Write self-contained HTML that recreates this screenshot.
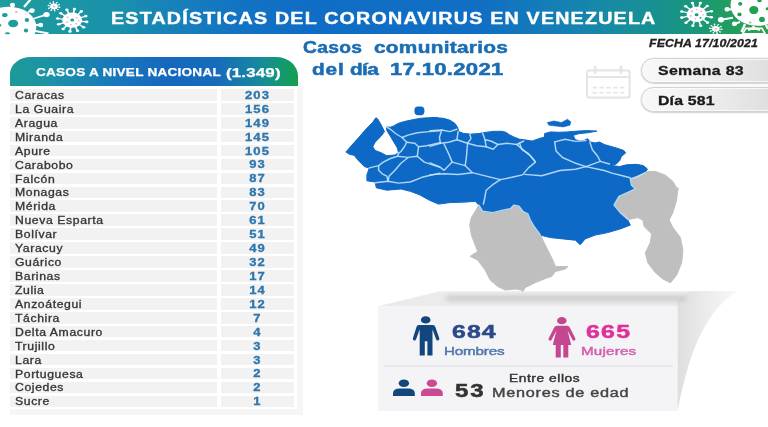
<!DOCTYPE html>
<html lang="es">
<head>
<meta charset="utf-8">
<title>Estadísticas del Coronavirus en Venezuela</title>
<style>
html,body{margin:0;padding:0;}
body{width:768px;height:427px;overflow:hidden;background:#fff;position:relative;font-family:"Liberation Sans",sans-serif;}
.abs{position:absolute;}
.t{position:absolute;white-space:nowrap;line-height:1;transform-origin:0 0;}
#banner{left:0;top:0;width:768px;height:34.2px;background:linear-gradient(90deg,#1f9c9c 0%,#1b97a3 8%,#1a91ab 15%,#1782b9 22%,#1273c3 31%,#0f6dc5 40%,#106ec4 62.5%,#1580b4 73%,#178ca0 80.7%,#17928c 86.6%,#1a9878 91%,#239e5a 95.7%,#2ba24c 100%);}
.pill{position:absolute;left:640.5px;width:140px;height:23.4px;border-radius:13px 0 0 13px;background:linear-gradient(90deg,#f8f8f8 0%,#f0f0f0 40%,#dcdcdc 100%);border:1px solid #d2d2d2;box-shadow:0 .5px 1.5px rgba(0,0,0,.3), inset 0 0 0 1px rgba(255,255,255,.7);}
#pill1{top:57.8px;}
#pill2{top:86.8px;}
/* table */
#tframe{left:9.6px;top:86px;width:293.4px;height:328.5px;background:#f6f6f6;}
#tinner{left:9.6px;top:86px;width:287.4px;height:323.4px;background:#fff;}
#thead{left:9.8px;top:57px;width:288.4px;height:29px;border-radius:21px 22px 0 0 / 17px 19px 0 0;background:linear-gradient(90deg,#1c9a98 0%,#1c93a6 14%,#1878bc 36%,#1568be 55%,#166cba 72%,#1788a0 86%,#15967a 93%,#14a04c 100%);}
#tbody{left:10.2px;top:89.05px;width:284px;height:320px;}
.row{position:absolute;left:0;width:284px;height:11.6px;background:#f2f2f2;}
.row .n{position:absolute;left:4.7px;top:1.9px;font-size:10px;color:#333;-webkit-text-stroke:.3px #363636;line-height:1;white-space:nowrap;transform-origin:0 0;transform:scaleX(1.22);letter-spacing:.5px;}
.row .v{position:absolute;left:208.6px;width:76px;top:1.8px;text-align:center;font-size:10px;font-weight:bold;color:#2d76ae;-webkit-text-stroke:.3px #2d76ae;line-height:1;transform:scaleX(1.3);letter-spacing:.8px;text-indent:.8px;}
#coldiv{left:207.3px;top:0;width:3.9px;height:320px;background:#fff;}
/* panel */
#panel{left:378px;top:305px;width:300px;height:105px;background:#f3f3f5;}
#pdiv{left:384px;top:365px;width:289px;height:1px;background:#dddde0;}
</style>
</head>
<body>
<div id="banner" class="abs"></div>
<svg id="deco" class="abs" style="left:0;top:0" width="768" height="427" viewBox="0 0 768 427">
<defs><clipPath id="bc"><rect x="0" y="0" width="768" height="34.3"/></clipPath></defs>
<g clip-path="url(#bc)">
<g fill="#fff" stroke="#fff">
<ellipse cx="8.75" cy="27" rx="27.6" ry="20.2" stroke="none"/>
<line x1="34" y1="18.5" x2="46.5" y2="14.6" stroke-width="1.8"/>
<ellipse cx="46.5" cy="14.6" rx="3.2" ry="2.7" stroke="none"/>
<line x1="28" y1="12" x2="32" y2="10.6" stroke-width="2"/>
<ellipse cx="32" cy="10.6" rx="2.7" ry="2.3" stroke="none"/>
<line x1="34" y1="25" x2="40.6" y2="25" stroke-width="1.8"/>
<ellipse cx="40.6" cy="25" rx="2.6" ry="2.2" stroke="none"/>
<line x1="12.5" y1="8" x2="12.5" y2="5" stroke-width="2"/>
<ellipse cx="12.5" cy="5" rx="2.6" ry="2.2" stroke="none"/>
<line x1="24" y1="7" x2="30.5" y2="-0.5" stroke-width="2.3"/>
<line x1="30" y1="30" x2="48.5" y2="33.5" stroke-width="2.2"/>
</g>
<ellipse cx="4.8" cy="15" rx="2.8" ry="2.1" fill="#1f9d9c"/>
<ellipse cx="13.2" cy="23.5" rx="5" ry="3.8" fill="#1f9d9c"/>
<ellipse cx="26.9" cy="20" rx="2.2" ry="2" fill="#1f9d9c"/>
<ellipse cx="26" cy="30.4" rx="2.2" ry="2" fill="#1f9d9c"/>
<ellipse cx="16.3" cy="12" rx="1.3" ry="1.1" fill="#e9a7c4"/>
<ellipse cx="25.6" cy="13.8" rx="1" ry="0.9" fill="#f3cfe0"/>
<ellipse cx="7.5" cy="33.5" rx="2.5" ry="1.3" fill="#1f9d9c"/>
<ellipse cx="0" cy="25.3" rx="1.2" ry="1.2" fill="#1f9d9c"/>
<g transform="translate(54,6.4) scale(1.3,1)"><g fill="#fff" stroke="#fff" opacity="1">
<circle cx="0" cy="0" r="2.8" stroke="none"/>
<line x1="2.2" y1="0.4" x2="4.3" y2="0.9" stroke-width="0.75"/>
<circle cx="4.3" cy="0.9" r="0.7" stroke="none"/>
<line x1="1.5" y1="1.7" x2="3.0" y2="3.2" stroke-width="0.75"/>
<circle cx="3.0" cy="3.2" r="0.7" stroke="none"/>
<line x1="0.3" y1="2.2" x2="0.5" y2="4.4" stroke-width="0.75"/>
<circle cx="0.5" cy="4.4" r="0.7" stroke="none"/>
<line x1="-1.1" y1="2.0" x2="-2.2" y2="3.8" stroke-width="0.75"/>
<circle cx="-2.2" cy="3.8" r="0.7" stroke="none"/>
<line x1="-2.0" y1="0.9" x2="-4.0" y2="1.8" stroke-width="0.75"/>
<circle cx="-4.0" cy="1.8" r="0.7" stroke="none"/>
<line x1="-2.2" y1="-0.4" x2="-4.3" y2="-0.9" stroke-width="0.75"/>
<circle cx="-4.3" cy="-0.9" r="0.7" stroke="none"/>
<line x1="-1.5" y1="-1.7" x2="-3.0" y2="-3.2" stroke-width="0.75"/>
<circle cx="-3.0" cy="-3.2" r="0.7" stroke="none"/>
<line x1="-0.3" y1="-2.2" x2="-0.5" y2="-4.4" stroke-width="0.75"/>
<circle cx="-0.5" cy="-4.4" r="0.7" stroke="none"/>
<line x1="1.1" y1="-2.0" x2="2.2" y2="-3.8" stroke-width="0.75"/>
<circle cx="2.2" cy="-3.8" r="0.7" stroke="none"/>
<line x1="2.0" y1="-0.9" x2="4.0" y2="-1.8" stroke-width="0.75"/>
<circle cx="4.0" cy="-1.8" r="0.7" stroke="none"/>
</g>
<circle cx="0.0" cy="0.0" r="0.9" fill="#e9a7c4"/>
</g>
<g transform="translate(72.2,20.2) scale(1.3,1)"><g fill="#fff" stroke="#fff" opacity="1">
<circle cx="0" cy="0" r="7.6" stroke="none"/>
<line x1="6.0" y1="0.9" x2="11.2" y2="1.7" stroke-width="1.25"/>
<circle cx="11.2" cy="1.7" r="1.3" stroke="none"/>
<line x1="4.8" y1="3.8" x2="8.8" y2="7.0" stroke-width="1.25"/>
<circle cx="8.8" cy="7.0" r="1.3" stroke="none"/>
<line x1="2.2" y1="5.7" x2="4.1" y2="10.5" stroke-width="1.25"/>
<circle cx="4.1" cy="10.5" r="1.3" stroke="none"/>
<line x1="-0.9" y1="6.0" x2="-1.7" y2="11.2" stroke-width="1.25"/>
<circle cx="-1.7" cy="11.2" r="1.3" stroke="none"/>
<line x1="-3.8" y1="4.8" x2="-7.0" y2="8.8" stroke-width="1.25"/>
<circle cx="-7.0" cy="8.8" r="1.3" stroke="none"/>
<line x1="-5.7" y1="2.2" x2="-10.5" y2="4.1" stroke-width="1.25"/>
<circle cx="-10.5" cy="4.1" r="1.3" stroke="none"/>
<line x1="-6.0" y1="-0.9" x2="-11.2" y2="-1.7" stroke-width="1.25"/>
<circle cx="-11.2" cy="-1.7" r="1.3" stroke="none"/>
<line x1="-4.8" y1="-3.8" x2="-8.8" y2="-7.0" stroke-width="1.25"/>
<circle cx="-8.8" cy="-7.0" r="1.3" stroke="none"/>
<line x1="-2.2" y1="-5.7" x2="-4.1" y2="-10.5" stroke-width="1.25"/>
<circle cx="-4.1" cy="-10.5" r="1.3" stroke="none"/>
<line x1="0.9" y1="-6.0" x2="1.7" y2="-11.2" stroke-width="1.25"/>
<circle cx="1.7" cy="-11.2" r="1.3" stroke="none"/>
<line x1="3.8" y1="-4.8" x2="7.0" y2="-8.8" stroke-width="1.25"/>
<circle cx="7.0" cy="-8.8" r="1.3" stroke="none"/>
<line x1="5.7" y1="-2.2" x2="10.5" y2="-4.1" stroke-width="1.25"/>
<circle cx="10.5" cy="-4.1" r="1.3" stroke="none"/>
</g>
<circle cx="0.0" cy="-0.2" r="1.5" fill="#1f9d9c"/>
<circle cx="-3.5" cy="-3.0" r="0.8" fill="#e9a7c4"/>
<circle cx="3.5" cy="-2.5" r="0.8" fill="#e9a7c4"/>
<circle cx="-4.0" cy="2.0" r="0.8" fill="#e9a7c4"/>
<circle cx="3.0" cy="3.5" r="0.8" fill="#e9a7c4"/>
<circle cx="-1.0" cy="4.5" r="0.7" fill="#e9a7c4"/>
<circle cx="5.0" cy="0.5" r="0.7" fill="#e9a7c4"/>
</g>
<g transform="translate(696.6,14.4) scale(1.3,1)"><g fill="#fff" stroke="#fff" opacity="1">
<circle cx="0" cy="0" r="7.7" stroke="none"/>
<line x1="6.0" y1="1.5" x2="11.4" y2="2.9" stroke-width="1.25"/>
<circle cx="11.4" cy="2.9" r="1.3" stroke="none"/>
<line x1="4.4" y1="4.3" x2="8.4" y2="8.2" stroke-width="1.25"/>
<circle cx="8.4" cy="8.2" r="1.3" stroke="none"/>
<line x1="1.7" y1="5.9" x2="3.2" y2="11.4" stroke-width="1.25"/>
<circle cx="3.2" cy="11.4" r="1.3" stroke="none"/>
<line x1="-1.5" y1="6.0" x2="-2.9" y2="11.4" stroke-width="1.25"/>
<circle cx="-2.9" cy="11.4" r="1.3" stroke="none"/>
<line x1="-4.3" y1="4.4" x2="-8.2" y2="8.4" stroke-width="1.25"/>
<circle cx="-8.2" cy="8.4" r="1.3" stroke="none"/>
<line x1="-5.9" y1="1.7" x2="-11.4" y2="3.2" stroke-width="1.25"/>
<circle cx="-11.4" cy="3.2" r="1.3" stroke="none"/>
<line x1="-6.0" y1="-1.5" x2="-11.4" y2="-2.9" stroke-width="1.25"/>
<circle cx="-11.4" cy="-2.9" r="1.3" stroke="none"/>
<line x1="-4.4" y1="-4.3" x2="-8.4" y2="-8.2" stroke-width="1.25"/>
<circle cx="-8.4" cy="-8.2" r="1.3" stroke="none"/>
<line x1="-1.7" y1="-5.9" x2="-3.2" y2="-11.4" stroke-width="1.25"/>
<circle cx="-3.2" cy="-11.4" r="1.3" stroke="none"/>
<line x1="1.5" y1="-6.0" x2="2.9" y2="-11.4" stroke-width="1.25"/>
<circle cx="2.9" cy="-11.4" r="1.3" stroke="none"/>
<line x1="4.3" y1="-4.4" x2="8.2" y2="-8.4" stroke-width="1.25"/>
<circle cx="8.2" cy="-8.4" r="1.3" stroke="none"/>
<line x1="5.9" y1="-1.7" x2="11.4" y2="-3.2" stroke-width="1.25"/>
<circle cx="11.4" cy="-3.2" r="1.3" stroke="none"/>
</g>
<circle cx="0.0" cy="0.3" r="1.5" fill="#169a86"/>
<circle cx="-3.5" cy="-3.0" r="0.8" fill="#e9a7c4"/>
<circle cx="3.5" cy="-3.0" r="0.8" fill="#e9a7c4"/>
<circle cx="-4.5" cy="1.5" r="0.8" fill="#e9a7c4"/>
<circle cx="3.0" cy="3.5" r="0.8" fill="#169a86"/>
<circle cx="-1.0" cy="4.5" r="0.7" fill="#e9a7c4"/>
<circle cx="5.0" cy="0.5" r="0.7" fill="#e9a7c4"/>
<circle cx="0.0" cy="-5.0" r="0.7" fill="#e9a7c4"/>
</g>
<g transform="translate(715.8,28.8) scale(1.3,1)"><g fill="#fff" stroke="#fff" opacity="1">
<circle cx="0" cy="0" r="2.8" stroke="none"/>
<line x1="2.2" y1="0.2" x2="4.6" y2="0.5" stroke-width="0.75"/>
<circle cx="4.6" cy="0.5" r="0.7" stroke="none"/>
<line x1="1.7" y1="1.5" x2="3.4" y2="3.1" stroke-width="0.75"/>
<circle cx="3.4" cy="3.1" r="0.7" stroke="none"/>
<line x1="0.5" y1="2.2" x2="1.0" y2="4.5" stroke-width="0.75"/>
<circle cx="1.0" cy="4.5" r="0.7" stroke="none"/>
<line x1="-0.9" y1="2.1" x2="-1.9" y2="4.2" stroke-width="0.75"/>
<circle cx="-1.9" cy="4.2" r="0.7" stroke="none"/>
<line x1="-1.9" y1="1.1" x2="-4.0" y2="2.3" stroke-width="0.75"/>
<circle cx="-4.0" cy="2.3" r="0.7" stroke="none"/>
<line x1="-2.2" y1="-0.2" x2="-4.6" y2="-0.5" stroke-width="0.75"/>
<circle cx="-4.6" cy="-0.5" r="0.7" stroke="none"/>
<line x1="-1.7" y1="-1.5" x2="-3.4" y2="-3.1" stroke-width="0.75"/>
<circle cx="-3.4" cy="-3.1" r="0.7" stroke="none"/>
<line x1="-0.5" y1="-2.2" x2="-1.0" y2="-4.5" stroke-width="0.75"/>
<circle cx="-1.0" cy="-4.5" r="0.7" stroke="none"/>
<line x1="0.9" y1="-2.1" x2="1.9" y2="-4.2" stroke-width="0.75"/>
<circle cx="1.9" cy="-4.2" r="0.7" stroke="none"/>
<line x1="1.9" y1="-1.1" x2="4.0" y2="-2.3" stroke-width="0.75"/>
<circle cx="4.0" cy="-2.3" r="0.7" stroke="none"/>
</g>
<circle cx="0.0" cy="0.0" r="0.9" fill="#e9a7c4"/>
</g>
<g fill="#fff" stroke="#fff">
<ellipse cx="757.5" cy="5" rx="27" ry="20.8" stroke="none"/>
<line x1="733" y1="17.8" x2="721" y2="19.8" stroke-width="1.9"/>
<ellipse cx="721" cy="19.8" rx="3.1" ry="2.7" stroke="none"/>
<line x1="733" y1="9.5" x2="727.2" y2="9.3" stroke-width="2"/>
<ellipse cx="727.2" cy="9.3" rx="2.6" ry="2.3" stroke="none"/>
<line x1="740" y1="22" x2="734.6" y2="23.8" stroke-width="2"/>
<ellipse cx="734.6" cy="23.8" rx="2.6" ry="2.3" stroke="none"/>
<path d="M745,24 L741.5,32 M753.5,26 L753.5,30 M766,25 L768,29" stroke-width="2.4" fill="none"/>
<path d="M742.6,33.9 L765.2,33.9 L762,28.4 L746,28.4 Z" fill="none" stroke-width="1.7"/>
<path d="M748,29.8 Q753.5,27.4 760,29.8" fill="none" stroke-width="2.4"/>
</g>
<ellipse cx="753.8" cy="10" rx="4.6" ry="4.1" fill="#1fa055"/>
<ellipse cx="740.2" cy="3.8" rx="2.1" ry="1.9" fill="#1fa055"/>
<ellipse cx="739.5" cy="14.4" rx="2.1" ry="1.9" fill="#1fa055"/>
<ellipse cx="762" cy="19.4" rx="2.9" ry="2.6" fill="#1fa055"/>
<ellipse cx="750.2" cy="22.5" rx="1.3" ry="1.1" fill="#8fc9a0"/>
<ellipse cx="767.3" cy="8.8" rx="1.6" ry="1.5" fill="#1fa055"/>
<ellipse cx="759.5" cy="0.4" rx="2.2" ry="1.9" fill="#1fa055"/>
</g>
<g fill="none" stroke="#e4e4e4" stroke-width="2.2" opacity=".95" filter="url(#calblur)">
<rect x="587" y="70.3" width="42.6" height="27.4" rx="2.5"/>
<line x1="587" y1="77" x2="629.6" y2="77" stroke-width="1.8"/>
<line x1="595.2" y1="66.8" x2="595.2" y2="72.6" stroke-width="2.6" stroke-linecap="round"/>
<line x1="621" y1="66.8" x2="621" y2="72.6" stroke-width="2.6" stroke-linecap="round"/>
<line x1="592.5" y1="87.6" x2="624.5" y2="87.6" stroke-width="1.6" stroke-dasharray="4.4 2.5"/>
<line x1="592.5" y1="92.7" x2="624.5" y2="92.7" stroke-width="1.6" stroke-dasharray="4.4 2.5"/>
</g>
<defs><filter id="calblur" x="-10%" y="-10%" width="120%" height="120%"><feGaussianBlur stdDeviation="0.5"/></filter></defs>
</svg>
<div id="pill1" class="pill"></div>
<div id="pill2" class="pill"></div>

<div id="tframe" class="abs"></div>
<div id="tinner" class="abs"></div>
<div id="thead" class="abs"></div>
<div id="tbody" class="abs">
<div class="row" style="top:0.0px"><span class="n">Caracas</span><span class="v">203</span></div>
<div class="row" style="top:13.93px"><span class="n">La Guaira</span><span class="v">156</span></div>
<div class="row" style="top:27.86px"><span class="n">Aragua</span><span class="v">149</span></div>
<div class="row" style="top:41.79px"><span class="n">Miranda</span><span class="v">145</span></div>
<div class="row" style="top:55.72px"><span class="n">Apure</span><span class="v">105</span></div>
<div class="row" style="top:69.65px"><span class="n">Carabobo</span><span class="v">93</span></div>
<div class="row" style="top:83.58px"><span class="n">Falcón</span><span class="v">87</span></div>
<div class="row" style="top:97.51px"><span class="n">Monagas</span><span class="v">83</span></div>
<div class="row" style="top:111.44px"><span class="n">Mérida</span><span class="v">70</span></div>
<div class="row" style="top:125.37px"><span class="n">Nueva Esparta</span><span class="v">61</span></div>
<div class="row" style="top:139.3px"><span class="n">Bolívar</span><span class="v">51</span></div>
<div class="row" style="top:153.23px"><span class="n">Yaracuy</span><span class="v">49</span></div>
<div class="row" style="top:167.16px"><span class="n">Guárico</span><span class="v">32</span></div>
<div class="row" style="top:181.09px"><span class="n">Barinas</span><span class="v">17</span></div>
<div class="row" style="top:195.02px"><span class="n">Zulia</span><span class="v">14</span></div>
<div class="row" style="top:208.95px"><span class="n">Anzoátegui</span><span class="v">12</span></div>
<div class="row" style="top:222.88px"><span class="n">Táchira</span><span class="v">7</span></div>
<div class="row" style="top:236.81px"><span class="n">Delta Amacuro</span><span class="v">4</span></div>
<div class="row" style="top:250.74px"><span class="n">Trujillo</span><span class="v">3</span></div>
<div class="row" style="top:264.67px"><span class="n">Lara</span><span class="v">3</span></div>
<div class="row" style="top:278.6px"><span class="n">Portuguesa</span><span class="v">2</span></div>
<div class="row" style="top:292.53px"><span class="n">Cojedes</span><span class="v">2</span></div>
<div class="row" style="top:306.46px"><span class="n">Sucre</span><span class="v">1</span></div>
<div id="coldiv" class="abs"></div>
</div>

<svg id="panelsvg" class="abs" style="left:0;top:0" width="768" height="427" viewBox="0 0 768 427">
<defs>
<linearGradient id="pg1" x1="0" y1="0" x2="0" y2="1"><stop offset="0" stop-color="#ececec"/><stop offset="1" stop-color="#dddddf"/></linearGradient>
<linearGradient id="pg2" x1="0" y1="0" x2="1" y2="0"><stop offset="0" stop-color="#dedede"/><stop offset=".5" stop-color="#ececec"/><stop offset="1" stop-color="#f8f8f8"/></linearGradient>
<filter id="pblur" x="-5%" y="-300%" width="110%" height="700%"><feGaussianBlur stdDeviation="2.4"/></filter>
<filter id="pblur2" x="-5%" y="-5%" width="110%" height="110%"><feGaussianBlur stdDeviation="0.6"/></filter>
</defs>
<g filter="url(#pblur2)">
<path d="M377.8,306.2 L440,291.2 L737,291.2 C712,306 694,330 677.5,411 L677.5,306.2 Z" fill="url(#pg1)"/>
<path d="M677.5,300 L677.5,411 C690,345 708,310 737,291.2 L690,291.2 Z" fill="url(#pg2)"/>
</g>
<rect x="446" y="296" width="240" height="4.4" rx="2" fill="#c4c4c4" filter="url(#pblur)"/>
<rect x="377.8" y="306.2" width="299.7" height="104.8" fill="#f4f4f6"/>
<rect x="384" y="365.6" width="289" height="1" fill="#dcdcdf"/>
</svg>
<svg id="icons" class="abs" style="left:0;top:0" width="768" height="427" viewBox="0 0 768 427">
<g fill="#14467e"><ellipse cx="425.7" cy="319.9" rx="4.8" ry="3.6"/>
<path d="M416.4,327.2 Q416.6,324.9 419,324.9 L432.6,324.9 Q435,324.9 435.4,327.2 L439.3,338.3 Q439.7,339.9 438.2,340.4 Q436.7,340.8 436.1,339.3 L432.5,329.6 L432.5,355.6 L427.4,355.6 L427.4,341.2 L424.8,341.2 L424.8,355.6 L419.7,355.6 L419.7,329.6 L416.1,339.3 Q415.5,340.8 414,340.4 Q412.5,339.9 412.9,338.3 Z"/></g>
<g fill="#c4478f"><ellipse cx="561.8" cy="320.7" rx="4.8" ry="3.6"/>
<path d="M554.2,327.6 Q554.8,325.8 557,325.8 L567,325.8 Q569.2,325.8 569.8,327.6 L575.4,338.6 Q575.9,340 574.5,340.6 Q573.1,341.1 572.4,339.8 L567.6,330.5 L571.2,344.9 L568.3,344.9 L568.3,357.4 L563.3,357.4 L563.3,344.9 L560.8,344.9 L560.8,357.4 L555.7,357.4 L555.7,344.9 L552.8,344.9 L556.4,330.5 L551.6,339.8 Q550.9,341.1 549.5,340.6 Q548.1,340 548.6,338.6 Z"/></g>
<g fill="#14467e"><ellipse cx="403.9" cy="383.3" rx="5.2" ry="3.8"/><path d="M393.0,396 L393.0,393.5 Q393.0,388.5 399.9,388.5 L407.9,388.5 Q414.79999999999995,388.5 414.79999999999995,393.5 L414.79999999999995,396 Z"/></g>
<g fill="#cc4a94"><ellipse cx="431.9" cy="383.3" rx="5.2" ry="3.8"/><path d="M421.0,396 L421.0,393.5 Q421.0,388.5 427.9,388.5 L435.9,388.5 Q442.79999999999995,388.5 442.79999999999995,393.5 L442.79999999999995,396 Z"/></g>
</svg>
<svg id="map" class="abs" style="left:0;top:0" width="768" height="427" viewBox="0 0 768 427">
<path d="M478.9,205.1 L482.7,211.3 L492.7,212.6 L502.8,210.1 L510.3,208.8 L514.0,205.1 L519.0,206.3 L522.8,211.3 L527.8,213.8 L530.3,220.1 L534.1,226.4 L537.8,231.4 L540.4,235.1 L544.1,242.7 L547.9,250.2 L552.9,260.2 L555.4,266.5 L567.9,266.5 L565.4,269.0 L555.4,271.5 L551.6,276.5 L547.9,277.6 L535.3,282.6 L525.3,287.6 L522.8,291.4 L521.6,290.1 L515.3,288.9 L505.3,290.1 L497.7,286.4 L490.2,280.1 L485.2,270.1 L477.7,260.1 L470.2,256.3 L477.7,251.4 L475.2,245.2 L471.4,235.1 L469.7,225.1 L471.4,217.6 L475.2,211.3Z" fill="#bfbfbf" stroke="#bfbfbf" stroke-width="1" stroke-linejoin="round"/>
<path d="M630.3,179.0 L640.3,175.2 L647.8,171.4 L655.3,171.4 L665.4,175.2 L672.9,181.5 L677.9,190.2 L677.9,187.5 L676.6,200.1 L672.9,212.6 L669.1,220.1 L672.9,227.6 L680.4,237.6 L682.9,250.2 L681.7,262.7 L676.6,275.2 L670.4,282.8 L662.9,279.0 L655.3,272.7 L647.8,262.7 L645.3,252.7 L650.3,242.7 L651.6,233.9 L644.1,226.4 L642.8,220.1 L637.8,217.6 L628.3,219.6 L620.3,212.6 L614.0,205.1 L619.0,196.3 L627.8,192.5 L635.3,188.8 L631.5,185.2Z" fill="#bfbfbf" stroke="#bfbfbf" stroke-width="1" stroke-linejoin="round"/>
<path d="M375.8,117.8 L372.8,122.2 L368.1,126.9 L363.4,132.1 L358.7,137.5 L354.1,142.6 L349.4,148.0 L345.9,152.0 L349.4,154.3 L354.1,155.3 L358.7,160.9 L364.6,166.7 L369.3,167.9 L366.9,174.9 L366.9,180.8 L375.1,182.0 L376.3,187.8 L386.8,190.2 L400.9,189.0 L410.3,191.3 L419.6,194.8 L429.0,200.0 L438.4,204.1 L450.1,202.6 L465.2,202.1 L475.2,201.3 L478.9,205.1 L482.7,211.3 L492.7,212.6 L502.8,210.1 L510.3,208.8 L514.0,205.1 L519.0,206.3 L522.8,211.3 L527.8,213.8 L530.3,220.1 L534.1,226.4 L537.8,231.4 L540.4,235.1 L550.4,237.6 L562.9,238.9 L575.4,240.2 L580.2,244.7 L585.2,238.9 L595.2,235.1 L607.7,232.6 L620.3,228.9 L630.3,225.1 L627.8,220.1 L620.3,212.6 L614.0,205.1 L619.0,196.3 L627.8,192.5 L635.3,188.8 L631.5,185.2 L630.3,179.0 L638.2,174.9 L645.0,172.4 L647.5,169.0 L643.3,165.6 L636.6,164.3 L626.4,164.8 L619.7,166.5 L611.3,165.6 L616.3,164.0 L619.7,160.6 L621.4,156.4 L625.6,153.0 L623.9,150.5 L616.3,147.9 L610.4,146.3 L604.5,144.6 L599.5,142.0 L595.2,142.9 L590.2,142.0 L587.6,138.7 L584.3,140.4 L580.1,141.2 L575.0,139.5 L573.3,135.3 L579.2,133.6 L587.6,132.8 L596.9,131.1 L587.6,130.6 L577.5,131.1 L567.4,131.9 L559.0,132.3 L550.5,131.9 L544.6,133.6 L544.6,137.0 L538.7,138.7 L532.1,141.1 L524.6,139.8 L519.5,139.2 L514.5,137.3 L509.4,134.7 L505.6,132.2 L501.8,131.3 L494.2,131.3 L486.6,132.2 L479.0,133.5 L471.4,134.1 L463.8,133.5 L458.8,131.6 L457.5,127.2 L455.0,123.4 L449.9,120.2 L443.6,118.3 L436.0,117.7 L437.3,117.4 L428.5,117.7 L420.9,118.3 L413.3,119.6 L404.4,121.5 L398.1,123.4 L393.7,125.9 L390.5,127.2 L386.4,126.9 L386.8,130.4 L390.4,136.3 L393.9,142.2 L397.4,148.0 L398.5,152.7 L395.0,155.0 L386.8,155.7 L381.0,152.7 L375.1,150.4 L372.8,146.8 L375.1,142.2 L381.0,136.3 L384.5,131.6 L381.0,124.6 L377.5,118.7Z" fill="#0d69c5" stroke="#0d69c5" stroke-width="1" stroke-linejoin="round"/>
<path d="M547.2,122.6 L553.9,121.0 L561.5,122.6 L567.4,119.3 L570.8,121.8 L569.9,125.2 L563.2,126.9 L555.6,126.0 L548.9,125.2Z" fill="#0d69c5" stroke="#0d69c5" stroke-width=".6" stroke-linejoin="round"/>
<rect x="414.4" y="106.6" width="10" height="8.6" rx="3.6" fill="#0d69c5"/>
<g fill="none" stroke="#c2e2f7" stroke-opacity=".9" stroke-width="1.45" stroke-linejoin="round" stroke-linecap="round">
<path d="M386.4,126.9 L390.4,129.3 L396.2,134.0 L402.1,137.5 L406.7,142.2 L404.4,146.8 L400.9,151.5 L398.5,153.4"/>
<path d="M406.7,142.2 L414.9,143.3 L418.5,146.8 L417.3,156.2"/>
<path d="M402.1,137.5 L407.9,135.1 L417.3,132.8 L429.0,131.6 L440.0,130.7"/>
<path d="M418.5,146.8 L426.7,145.7 L440.0,142.6"/>
<path d="M398.5,153.4 L397.4,156.2 L390.4,158.5 L383.3,162.1 L378.6,165.6 L369.3,167.9"/>
<path d="M397.4,156.2 L407.9,157.4 L417.3,156.2 L424.3,162.1 L440.0,167.4"/>
<path d="M378.6,165.6 L378.6,170.3 L382.2,173.8 L386.8,176.1 L388.0,180.8"/>
<path d="M407.9,157.8 L400.9,163.2 L395.0,170.3 L389.2,176.1 L388.0,180.8"/>
<path d="M375.1,182.7 L388.0,181.3 L398.5,183.1 L410.3,182.0 L422.0,177.3 L433.7,174.5 L440.0,173.3"/>
<path d="M430.0,130.7 L441.7,130.0 L449.9,131.6 L456.9,129.3"/>
<path d="M441.7,130.0 L439.4,137.5 L440.5,143.3 L430.0,146.4"/>
<path d="M440.5,143.3 L448.7,142.2 L456.9,139.8 L458.1,131.6"/>
<path d="M456.9,139.8 L467.5,143.3 L471.0,138.6 L469.8,134.0"/>
<path d="M467.5,143.3 L476.8,145.7 L486.2,146.8 L485.0,139.8 L482.7,133.3"/>
<path d="M486.2,146.8 L493.2,149.2 L497.9,144.5 L490.9,141.0 L485.0,139.8"/>
<path d="M497.9,144.5 L507.3,143.3 L516.7,144.5 L523.7,141.0"/>
<path d="M516.7,144.5 L523.7,150.4 L530.7,156.2 L535.4,162.1 L528.4,167.9 L522.5,174.9 L512.0,177.3 L500.3,179.6"/>
<path d="M467.5,143.8 L466.3,158.5 L465.1,165.6 L472.2,172.6 L486.2,176.1 L500.3,179.6"/>
<path d="M444.1,144.0 L448.7,153.9 L452.2,162.1 L465.1,165.6"/>
<path d="M430.0,162.8 L439.4,166.7 L444.1,170.3 L452.2,162.1"/>
<path d="M430.0,174.9 L444.1,173.8 L458.1,174.5 L472.2,172.8"/>
<path d="M500.3,179.6 L493.2,184.3 L486.2,190.2 L484.3,200.0 L483.4,204.2"/>
<path d="M524.7,174.4 L541.7,175.7 L559.9,170.5 L575.5,169.2 L585.9,166.6 L604.2,170.5 L612.0,173.1 L622.4,175.7 L630.2,177.8"/>
<path d="M519.5,143.2 L522.1,149.7 L528.6,153.6 L535.2,161.4"/>
<path d="M554.7,141.9 L556.0,151.0 L562.5,157.5 L574.2,162.7 L585.9,166.6"/>
<path d="M554.7,141.9 L565.1,139.3 L575.5,141.4 L585.9,140.6"/>
<path d="M589.8,141.9 L592.4,149.7 L597.7,156.2 L600.3,161.4 L585.9,166.6"/>
<path d="M600.3,161.4 L609.4,164.0"/>
<path d="M478.9,205.1 L482.7,211.3 L492.7,212.6 L502.8,210.1 L510.3,208.8 L514.0,205.1 L519.0,206.3 L522.8,211.3 L527.8,213.8 L530.3,220.1 L534.1,226.4 L537.8,231.4 L540.4,235.1"/>
<path d="M628.3,219.6 L620.3,212.6 L614.0,205.1 L619.0,196.3 L627.8,192.5 L635.3,188.8 L631.5,185.2 L630.3,179.0 L637.8,176.5 L645.3,172.7"/>
</g></svg>
<div id="bannertxt" class="t" style="left:111.00px;top:10.58px;font-size:15.8px;font-weight:bold;font-style:normal;color:#fff;letter-spacing:0.968px;transform:scaleX(1.245);-webkit-text-stroke:.4px #fff;">ESTADÍSTICAS DEL CORONAVIRUS EN VENEZUELA</div>
<div id="sub1a" class="t" style="left:302.50px;top:39.76px;font-size:16px;font-weight:bold;font-style:normal;color:#1b6db3;letter-spacing:0.292px;transform:scaleX(1.2);-webkit-text-stroke:.5px #1b6db3;">Casos</div>
<div id="sub1b" class="t" style="left:374.00px;top:39.76px;font-size:16px;font-weight:bold;font-style:normal;color:#1b6db3;letter-spacing:0.224px;transform:scaleX(1.3);-webkit-text-stroke:.5px #1b6db3;">comunitarios</div>
<div id="sub2a" class="t" style="left:312.00px;top:61.76px;font-size:16px;font-weight:bold;font-style:normal;color:#1b6db3;letter-spacing:0.692px;transform:scaleX(1.3);-webkit-text-stroke:.5px #1b6db3;">del</div>
<div id="sub2b" class="t" style="left:350.00px;top:61.76px;font-size:16px;font-weight:bold;font-style:normal;color:#1b6db3;letter-spacing:-0.462px;transform:scaleX(1.3);-webkit-text-stroke:.5px #1b6db3;">día</div>
<div id="sub2c" class="t" style="left:390.00px;top:61.76px;font-size:16px;font-weight:bold;font-style:normal;color:#1b6db3;letter-spacing:0.225px;transform:scaleX(1.38);-webkit-text-stroke:.5px #1b6db3;">17.10.2021</div>
<div id="fecha" class="t" style="left:648.50px;top:38.31px;font-size:11.8px;font-weight:bold;font-style:italic;color:#222;letter-spacing:0.076px;transform:scaleX(1.05);-webkit-text-stroke:.3px #222;">FECHA 17/10/2021</div>
<div id="p1t" class="t" style="left:657.50px;top:63.90px;font-size:13px;font-weight:bold;font-style:normal;color:#1a1a1a;letter-spacing:0.287px;transform:scaleX(1.22);-webkit-text-stroke:.3px #1a1a1a;">Semana 83</div>
<div id="p2t" class="t" style="left:658.00px;top:94.30px;font-size:13px;font-weight:bold;font-style:normal;color:#1a1a1a;letter-spacing:0.137px;transform:scaleX(1.22);-webkit-text-stroke:.3px #1a1a1a;">Día 581</div>
<div id="theadtxt" class="t" style="left:36.00px;top:67.03px;font-size:11.3px;font-weight:bold;font-style:normal;color:#fff;letter-spacing:0.206px;transform:scaleX(1.2);-webkit-text-stroke:.25px #fff;">CASOS A NIVEL NACIONAL</div>
<div id="tot" class="t" style="left:226.00px;top:65.80px;font-size:13px;font-weight:bold;font-style:normal;color:#fff;letter-spacing:0.128px;transform:scaleX(1.3);-webkit-text-stroke:.25px #fff;">(1.349)</div>
<div id="n684" class="t" style="left:452.00px;top:323.26px;font-size:18px;font-weight:bold;font-style:normal;color:#2a4a8a;letter-spacing:0.797px;transform:scaleX(1.38);-webkit-text-stroke:.5px #2a4a8a;">684</div>
<div id="hom" class="t" style="left:443.50px;top:345.79px;font-size:11px;font-weight:normal;font-style:normal;color:#4f79ad;letter-spacing:-0.121px;transform:scaleX(1.38);-webkit-text-stroke:.45px #4f79ad;">Hombres</div>
<div id="n665" class="t" style="left:586.00px;top:323.26px;font-size:18px;font-weight:bold;font-style:normal;color:#e0309a;letter-spacing:0.942px;transform:scaleX(1.38);-webkit-text-stroke:.5px #e0309a;">665</div>
<div id="muj" class="t" style="left:581.00px;top:345.79px;font-size:11px;font-weight:normal;font-style:normal;color:#d45fae;letter-spacing:0.145px;transform:scaleX(1.38);-webkit-text-stroke:.45px #d45fae;">Mujeres</div>
<div id="entre" class="t" style="left:509.00px;top:373.43px;font-size:10.6px;font-weight:normal;font-style:normal;color:#333;letter-spacing:0.431px;transform:scaleX(1.3);-webkit-text-stroke:.4px #333;">Entre ellos</div>
<div id="n53" class="t" style="left:455.00px;top:382.44px;font-size:18.5px;font-weight:bold;font-style:normal;color:#333;letter-spacing:1.538px;transform:scaleX(1.3);-webkit-text-stroke:.5px #333;">53</div>
<div id="men" class="t" style="left:491.50px;top:387.02px;font-size:12.5px;font-weight:normal;font-style:normal;color:#444;letter-spacing:0.549px;transform:scaleX(1.3);-webkit-text-stroke:.4px #444;">Menores de edad</div>
</body>
</html>
